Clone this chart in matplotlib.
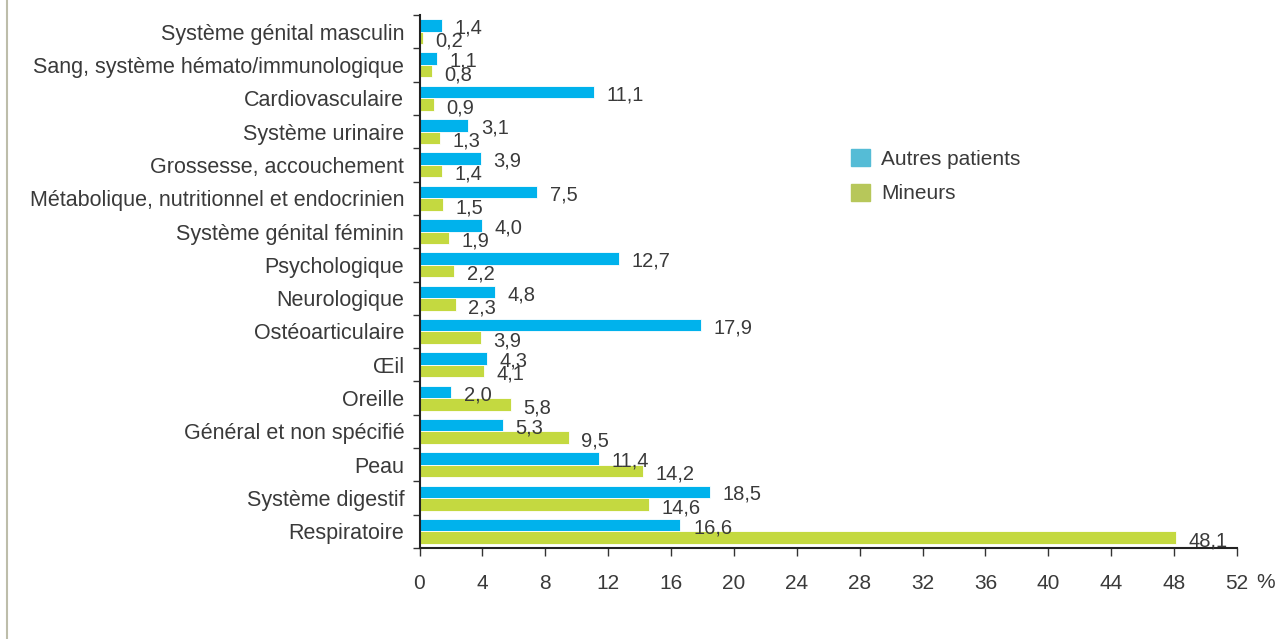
import matplotlib
matplotlib.use("Agg")
import matplotlib.pyplot as plt
import matplotlib.patches as mpatches
from matplotlib.lines import Line2D
import numpy as np

categories = ["Système génital masculin", "Sang, système hémato/immunologique",
              "Cardiovasculaire", "Système urinaire", "Grossesse, accouchement",
              "Métabolique, nutritionnel et endocrinien", "Système génital féminin",
              "Psychologique", "Neurologique", "Ostéoarticulaire", "Œil", "Oreille",
              "Général et non spécifié", "Peau", "Système digestif", "Respiratoire"]
autres = [1.4, 1.1, 11.1, 3.1, 3.9, 7.5, 4.0, 12.7, 4.8, 17.9, 4.3, 2.0, 5.3, 11.4, 18.5, 16.6]
mineurs = [0.2, 0.8, 0.9, 1.3, 1.4, 1.5, 1.9, 2.2, 2.3, 3.9, 4.1, 5.8, 9.5, 14.2, 14.6, 48.1]
xticks = [0, 4, 8, 12, 16, 20, 24, 28, 32, 36, 40, 44, 48, 52]

plt.rcParams['font.family'] = ['Liberation Sans', 'DejaVu Sans']
txt = '#3a3a3a'
blue = '#00b2ec'
green = '#c4d940'
fs_cat = 15.5
fs_val = 14.5
fs_tick = 15

fig = plt.figure(figsize=(12.88, 6.39), dpi=100)
ax = fig.add_axes([419.5/1288, 1 - 548/639, (1237 - 419.5)/1288, (548 - 15)/639])

n = len(categories)
y = np.arange(n)
h = 0.375
ax.barh(y - h/2, autres, height=h, color=blue, edgecolor='white', linewidth=0.6)
ax.barh(y + h/2, mineurs, height=h, color=green, edgecolor='white', linewidth=0.6)

def fmt(v):
    return f"{v:.1f}".replace('.', ',')

for i in range(n):
    ax.text(autres[i] + 0.8, y[i] - h/2 + 0.08, fmt(autres[i]), va='center', ha='left',
            fontsize=fs_val, color=txt)
    ax.text(mineurs[i] + 0.8, y[i] + h/2 + 0.1, fmt(mineurs[i]), va='center', ha='left',
            fontsize=fs_val, color=txt)

ax.set_ylim(n - 0.5, -0.5)
ax.set_xlim(0, 52)
ax.set_yticks(y)
ax.set_yticklabels(categories, fontsize=fs_cat, color=txt)
ax.set_yticks(np.arange(n + 1) - 0.5, minor=True)
ax.tick_params(axis='y', which='major', length=0, pad=11)
ax.tick_params(axis='y', which='minor', length=5, width=1, color='#333333')
ax.set_xticks(xticks)
ax.set_xticklabels([str(t) for t in xticks], fontsize=fs_tick, color=txt)
ax.tick_params(axis='x', length=6, width=1, color='#333333', pad=13)
for s in ['top', 'right']:
    ax.spines[s].set_visible(False)
ax.spines['left'].set_linewidth(1.5)
ax.spines['bottom'].set_linewidth(1.5)
ax.spines['left'].set_color('#222222')
ax.spines['bottom'].set_color('#222222')

fig.text(1266/1288, 1 - 582/639, '%', fontsize=fs_tick, color=txt, ha='center', va='center')

handles = [mpatches.Patch(color='#55bcd6', label='Autres patients'),
           mpatches.Patch(color='#b7c75a', label='Mineurs')]
fig.legend(handles=handles, loc='upper left', bbox_to_anchor=(832/1288, 1 - 130/639),
           frameon=False, fontsize=15, handlelength=0.9, handleheight=0.9,
           labelspacing=0.72, handletextpad=0.55, labelcolor=txt)

fig.add_artist(Line2D([7/1288, 7/1288], [0, 1], transform=fig.transFigure,
                      color='#bdbdaa', linewidth=1.5))

fig.savefig('out.png', dpi=100)
